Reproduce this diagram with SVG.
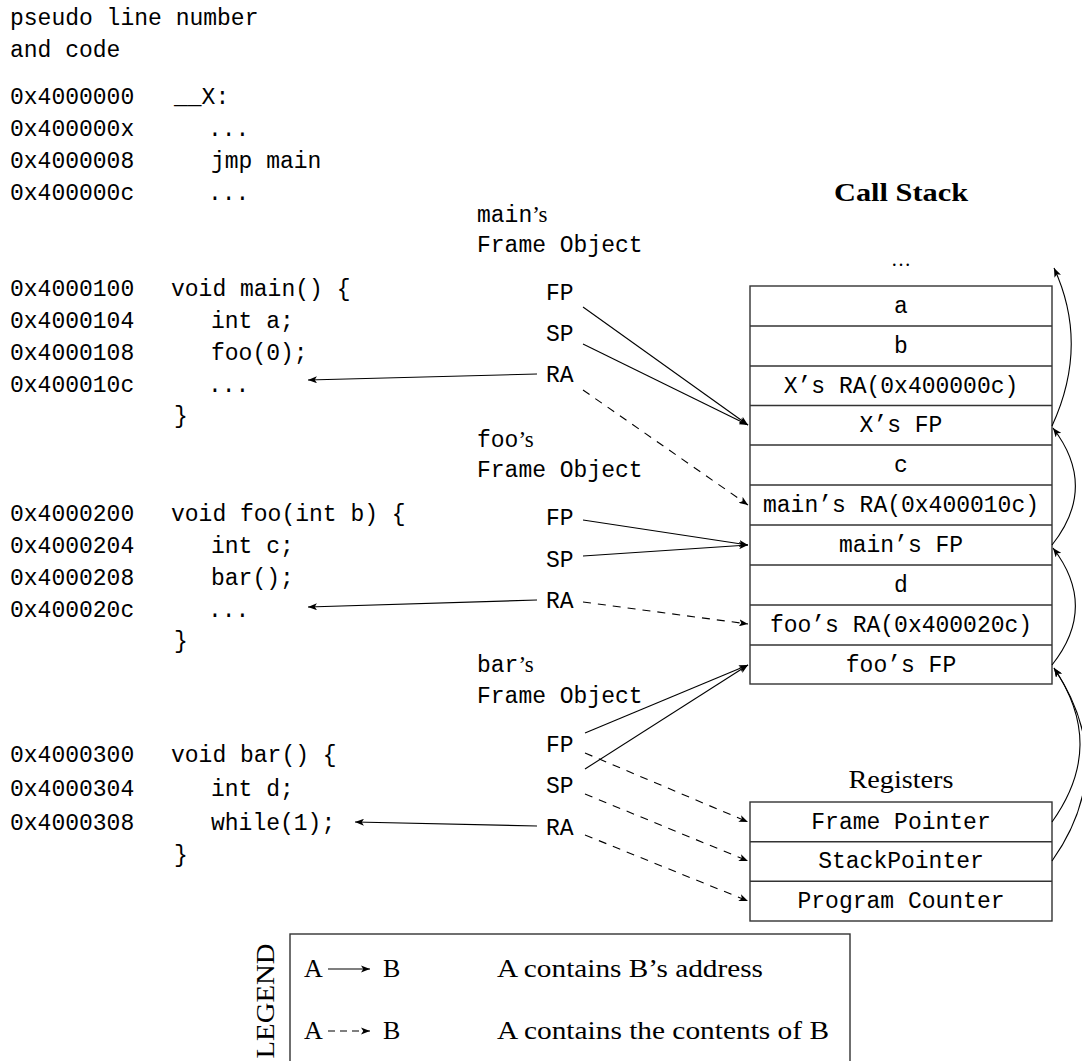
<svg xmlns="http://www.w3.org/2000/svg" width="1082" height="1061" viewBox="0 0 1082 1061">
<defs>
<marker id="ah" viewBox="0 0 10 8" refX="10" refY="4" markerWidth="9" markerHeight="7.2" markerUnits="userSpaceOnUse" orient="auto">
<path d="M0,0 L10,4 L0,8 L2.5,4 z" fill="#000"/>
</marker>
<style>
.mono{font-family:"Liberation Mono","DejaVu Sans Mono",monospace;font-size:23px;fill:#000}
.serif{font-family:"Liberation Serif","DejaVu Serif",serif;fill:#000}
.arr{stroke:#000;stroke-width:1.1;fill:none;marker-end:url(#ah)}
.dash{stroke-dasharray:8 7}
.box{fill:#fff;stroke:#333;stroke-width:1.4}
.sep{stroke:#333;stroke-width:1.4}
.mid{text-anchor:middle}
</style>
</defs>
<rect x="0" y="0" width="1082" height="1061" fill="#fff"/>

<g id="code">
<text class="mono" x="10" y="25">pseudo line number</text>
<text class="mono" x="10" y="57">and code</text>
<text class="mono" x="10" y="104">0x4000000</text><text class="mono" x="174" y="104">__X:</text>
<text class="mono" x="10" y="136">0x400000x</text><text class="mono" x="208" y="136">...</text>
<text class="mono" x="10" y="168">0x4000008</text><text class="mono" x="211" y="168">jmp main</text>
<text class="mono" x="10" y="200">0x400000c</text><text class="mono" x="208" y="200">...</text>

<text class="mono" x="10" y="296">0x4000100</text><text class="mono" x="171" y="296">void main() {</text>
<text class="mono" x="10" y="328">0x4000104</text><text class="mono" x="211" y="328">int a;</text>
<text class="mono" x="10" y="360">0x4000108</text><text class="mono" x="211" y="360">foo(0);</text>
<text class="mono" x="10" y="392">0x400010c</text><text class="mono" x="208" y="392">...</text>
<text class="mono" x="174" y="423">}</text>

<text class="mono" x="10" y="521">0x4000200</text><text class="mono" x="171" y="521">void foo(int b) {</text>
<text class="mono" x="10" y="553">0x4000204</text><text class="mono" x="211" y="553">int c;</text>
<text class="mono" x="10" y="585">0x4000208</text><text class="mono" x="211" y="585">bar();</text>
<text class="mono" x="10" y="617">0x400020c</text><text class="mono" x="208" y="617">...</text>
<text class="mono" x="174" y="648">}</text>

<text class="mono" x="10" y="762">0x4000300</text><text class="mono" x="171" y="762">void bar() {</text>
<text class="mono" x="10" y="796">0x4000304</text><text class="mono" x="211" y="796">int d;</text>
<text class="mono" x="10" y="830">0x4000308</text><text class="mono" x="211" y="830">while(1);</text>
<text class="mono" x="174" y="862">}</text>
</g>

<g id="main-frame">
<text class="mono" x="477" y="222">main<tspan class="serif">’s</tspan></text>
<text class="mono" x="477" y="252">Frame Object</text>
<text class="mono" x="546" y="300">FP</text>
<text class="mono" x="546" y="341">SP</text>
<text class="mono" x="546" y="382">RA</text>
</g>

<g id="foo-frame">
<text class="mono" x="477" y="447">foo<tspan class="serif">’s</tspan></text>
<text class="mono" x="477" y="477">Frame Object</text>
<text class="mono" x="546" y="525">FP</text>
<text class="mono" x="546" y="567">SP</text>
<text class="mono" x="546" y="608">RA</text>
</g>

<g id="bar-frame">
<text class="mono" x="477" y="672">bar<tspan class="serif">’s</tspan></text>
<text class="mono" x="477" y="703">Frame Object</text>
<text class="mono" x="546" y="752">FP</text>
<text class="mono" x="546" y="793">SP</text>
<text class="mono" x="546" y="835">RA</text>
</g>

<g id="call-stack">
<text class="serif mid" x="901" y="201" font-size="26" font-weight="bold" textLength="134" lengthAdjust="spacingAndGlyphs">Call Stack</text>
<text class="serif mid" x="901" y="266" font-size="20">…</text>
<rect class="box" x="750" y="286" width="302" height="398"/>
<line class="sep" x1="750" y1="326" x2="1052" y2="326"/>
<line class="sep" x1="750" y1="366" x2="1052" y2="366"/>
<line class="sep" x1="750" y1="405.5" x2="1052" y2="405.5"/>
<line class="sep" x1="750" y1="445" x2="1052" y2="445"/>
<line class="sep" x1="750" y1="485" x2="1052" y2="485"/>
<line class="sep" x1="750" y1="525" x2="1052" y2="525"/>
<line class="sep" x1="750" y1="565" x2="1052" y2="565"/>
<line class="sep" x1="750" y1="605" x2="1052" y2="605"/>
<line class="sep" x1="750" y1="645" x2="1052" y2="645"/>
<text class="mono mid" x="901" y="313">a</text>
<text class="mono mid" x="901" y="353">b</text>
<text class="mono mid" x="901" y="393">X’s RA(0x400000c)</text>
<text class="mono mid" x="901" y="432">X’s FP</text>
<text class="mono mid" x="901" y="472">c</text>
<text class="mono mid" x="901" y="512">main’s RA(0x400010c)</text>
<text class="mono mid" x="901" y="552">main’s FP</text>
<text class="mono mid" x="901" y="592">d</text>
<text class="mono mid" x="901" y="632">foo’s RA(0x400020c)</text>
<text class="mono mid" x="901" y="672">foo’s FP</text>
</g>

<g id="registers">
<text class="serif mid" x="901" y="788" font-size="25" textLength="105" lengthAdjust="spacingAndGlyphs">Registers</text>
<rect class="box" x="750" y="802" width="302" height="119"/>
<line class="sep" x1="750" y1="841.7" x2="1052" y2="841.7"/>
<line class="sep" x1="750" y1="881.3" x2="1052" y2="881.3"/>
<text class="mono mid" x="901" y="829">Frame Pointer</text>
<text class="mono mid" x="901" y="868">StackPointer</text>
<text class="mono mid" x="901" y="908">Program Counter</text>
</g>

<g id="connectors">
<path class="arr" d="M1052,426 C1076,374 1078,320 1054,268"/>
<path class="arr" d="M1052,545 C1083,506 1083,467 1053,428"/>
<path class="arr" d="M1052,665 C1083,626 1083,587 1053,548"/>
<path class="arr" d="M1052,822 C1089,770 1089,720 1054,668"/>
<path class="arr" d="M1052,861 C1097,797 1097,732 1054,668"/>

<path class="arr" d="M583,307 L748,425"/>
<path class="arr" d="M583,344 L748,425"/>
<path class="arr" d="M537,374 L308,380"/>
<path class="arr dash" d="M583,390 L748,505"/>

<path class="arr" d="M583,520 L748,545"/>
<path class="arr" d="M583,556 L748,545"/>
<path class="arr" d="M537,600 L308,607"/>
<path class="arr dash" d="M583,602 L748,624"/>

<path class="arr" d="M585,733 L748,665"/>
<path class="arr" d="M585,769 L748,665"/>
<path class="arr dash" d="M585,753 L748,822"/>
<path class="arr dash" d="M585,794 L748,861"/>
<path class="arr dash" d="M585,835 L748,901"/>
<path class="arr" d="M537,826 L355,822"/>
</g>

<g id="legend">
<rect x="290" y="934" width="560" height="140" fill="none" stroke="#333" stroke-width="1.4"/>
<text class="serif mid" transform="translate(274,1001) rotate(-90)" font-size="25" textLength="115" lengthAdjust="spacingAndGlyphs">LEGEND</text>
<text class="serif" x="304" y="977" font-size="26">A</text>
<path class="arr" d="M328,969 L370,969"/>
<text class="serif" x="383" y="977" font-size="26">B</text>
<text class="serif" x="497" y="977" font-size="26" textLength="266" lengthAdjust="spacingAndGlyphs">A contains B’s address</text>
<text class="serif" x="304" y="1039" font-size="26">A</text>
<path class="arr" d="M328,1031 L370,1031" stroke-dasharray="7 5"/>
<text class="serif" x="383" y="1039" font-size="26">B</text>
<text class="serif" x="497" y="1039" font-size="26" textLength="332" lengthAdjust="spacingAndGlyphs">A contains the contents of B</text>
</g>
</svg>
